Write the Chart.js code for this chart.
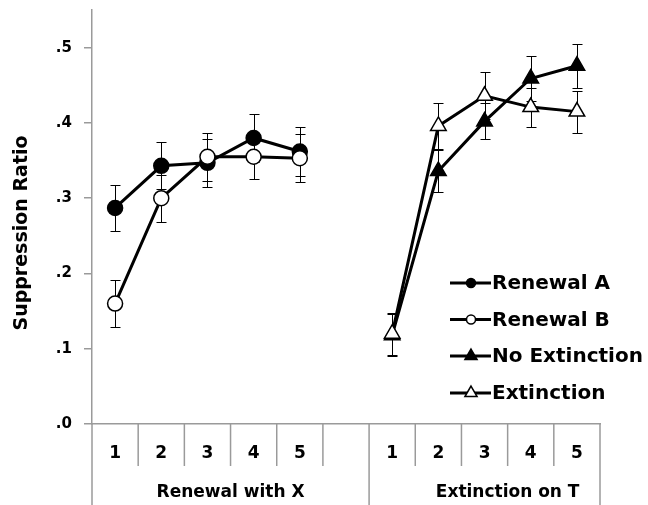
<!DOCTYPE html>
<html>
<head>
<meta charset="utf-8">
<script src="https://cdn.jsdelivr.net/npm/chart.js@4.4.0/dist/chart.umd.min.js"></script>
<style>
  html, body { margin: 0; padding: 0; background: #fff; }
  #wrap { width: 648px; height: 505px; }
</style>
</head>
<body>
<div id="wrap"><canvas id="chart" width="648" height="505"></canvas></div>
<script>
// sessions: 5 renewal tests, an empty slot, 5 extinction sessions
const sessions = ['1', '2', '3', '4', '5', '', '1', '2', '3', '4', '5'];
const groupLabels = ['Renewal with X', 'Extinction on T'];
const yTickValues = [0, 0.1, 0.2, 0.3, 0.4, 0.5];

const renewalA    = [0.287, 0.343, 0.347, 0.380, 0.362, null, null, null, null, null, null];
const renewalAErr = [0.031, 0.031, 0.032, 0.032, 0.032, null, null, null, null, null, null];
const renewalB    = [0.160, 0.300, 0.355, 0.355, 0.353, null, null, null, null, null, null];
const renewalBErr = [0.031, 0.031, 0.032, 0.029, 0.032, null, null, null, null, null, null];
const noExtinction    = [null, null, null, null, null, null, 0.118, 0.336, 0.402, 0.459, 0.476];
const noExtinctionErr = [null, null, null, null, null, null, 0.028, 0.028, 0.024, 0.030, 0.029];
const extinction    = [null, null, null, null, null, null, 0.120, 0.396, 0.436, 0.421, 0.415];
const extinctionErr = [null, null, null, null, null, null, 0.028, 0.030, 0.031, 0.026, 0.028];

const errors = [renewalAErr, renewalBErr, noExtinctionErr, extinctionErr];

const AXIS_GREY = '#9a9a9a';
const FONT = 'DejaVu Sans';

Chart.defaults.font.family = FONT;
Chart.defaults.color = '#000';

const extras = {
  id: 'extras',
  // error bars go under each series' own line and markers
  beforeDatasetDraw(chart, args) {
    const err = errors[args.index];
    const vals = chart.data.datasets[args.index].data;
    const yScale = chart.scales.y;
    const ctx = chart.ctx;
    ctx.save();
    ctx.strokeStyle = '#000';
    ctx.lineWidth = 1;
    args.meta.data.forEach((pt, i) => {
      if (vals[i] == null || err[i] == null) return;
      const top = Math.round(yScale.getPixelForValue(vals[i] + err[i])) + 0.5;
      const bot = Math.round(yScale.getPixelForValue(vals[i] - err[i])) + 0.5;
      const x = Math.round(pt.x) + 0.5;
      ctx.beginPath();
      ctx.moveTo(x, top); ctx.lineTo(x, bot);
      ctx.moveTo(x - 5, top); ctx.lineTo(x + 5, top);
      ctx.moveTo(x - 5, bot); ctx.lineTo(x + 5, bot);
      ctx.stroke();
    });
    ctx.restore();
  },
  afterDraw(chart) {
    const ctx = chart.ctx;
    const xScale = chart.scales.x;
    const area = chart.chartArea;
    const bottom = chart.height;
    const edge = i => xScale.getPixelForValue(i - 0.5);

    ctx.save();
    // category separators under the axis
    ctx.strokeStyle = AXIS_GREY;
    ctx.lineWidth = 1.5;
    for (let i = 0; i <= sessions.length; i++) {
      const long = (i === 0 || i === 6 || i === sessions.length);
      const x = edge(i);
      ctx.beginPath();
      ctx.moveTo(x, area.bottom);
      ctx.lineTo(x, long ? bottom : area.bottom + 42);
      ctx.stroke();
    }

    // group labels
    ctx.fillStyle = '#000';
    ctx.font = 'bold 17px ' + FONT;
    ctx.textAlign = 'center';
    ctx.textBaseline = 'middle';
    ctx.fillText(groupLabels[0], (edge(0) + edge(6)) / 2, area.bottom + 69);
    ctx.fillText(groupLabels[1], (edge(7) + edge(11)) / 2, area.bottom + 69);

    // y title
    ctx.save();
    ctx.translate(22, 233);
    ctx.rotate(-Math.PI / 2);
    ctx.font = 'bold 19px ' + FONT;
    ctx.fillText('Suppression Ratio', 0, 0);
    ctx.restore();

    // legend
    const rows = [283, 319.5, 356, 393];
    chart.data.datasets.forEach((ds, k) => {
      const y = rows[k];
      ctx.strokeStyle = '#000';
      ctx.lineWidth = 3;
      ctx.beginPath();
      ctx.moveTo(450, y); ctx.lineTo(491, y);
      ctx.stroke();
      ctx.fillStyle = ds.pointBackgroundColor;
      ctx.lineWidth = 1.5;
      Chart.helpers.drawPoint(ctx, {
        pointStyle: ds.pointStyle,
        radius: ds.pointStyle === 'triangle' ? 7 : 4.5,
        rotation: 0,
        borderWidth: 1.5
      }, 471, y);
      ctx.fillStyle = '#000';
      ctx.font = 'bold 20px ' + FONT;
      ctx.textAlign = 'left';
      ctx.textBaseline = 'middle';
      ctx.fillText(ds.label, 492, y + 1);
    });
    ctx.restore();
  }
};

function series(label, data, style, fill, order) {
  return {
    label: label,
    data: data,
    borderColor: '#000',
    borderWidth: 3,
    tension: 0,
    pointStyle: style,
    pointRadius: style === 'triangle' ? 9 : 7.5,
    pointBackgroundColor: fill,
    pointBorderColor: '#000',
    pointBorderWidth: 1.5,
    order: order
  };
}

new Chart(document.getElementById('chart'), {
  type: 'line',
  data: {
    labels: sessions,
    datasets: [
      series('Renewal A', renewalA, 'circle', '#000', 4),
      series('Renewal B', renewalB, 'circle', '#fff', 3),
      series('No Extinction', noExtinction, 'triangle', '#000', 2),
      series('Extinction', extinction, 'triangle', '#fff', 1)
    ]
  },
  options: {
    responsive: false,
    animation: false,
    events: [],
    layout: { autoPadding: false, padding: { top: 10, right: 48, left: 0, bottom: 0 } },
    plugins: {
      legend: { display: false },
      tooltip: { enabled: false }
    },
    scales: {
      x: {
        type: 'category',
        offset: true,
        grid: { display: false },
        border: { display: true, color: AXIS_GREY, width: 1.5 },
        ticks: {
          font: { size: 17, weight: 'bold' },
          color: '#000',
          padding: 11,
          maxRotation: 0,
          autoSkip: false
        },
        afterFit(scale) {
          scale.height = 81;
          scale.paddingLeft = 0;
          scale.paddingRight = 0;
        }
      },
      y: {
        min: 0,
        max: 0.55,
        grid: {
          drawOnChartArea: false,
          drawTicks: true,
          tickLength: 8,
          color: AXIS_GREY,
          lineWidth: 1.5
        },
        border: { display: true, color: AXIS_GREY, width: 1.5 },
        ticks: {
          font: { size: 15, weight: 'bold' },
          color: '#000',
          padding: 12,
          callback: v => v === 0 ? '.0' : '.' + Math.round(v * 10)
        },
        afterBuildTicks(scale) {
          scale.ticks = yTickValues.map(v => ({ value: v }));
        },
        afterFit(scale) {
          scale.width = 92;
          scale.paddingTop = 0;
          scale.paddingBottom = 0;
        }
      }
    }
  },
  plugins: [extras]
});
</script>
</body>
</html>
